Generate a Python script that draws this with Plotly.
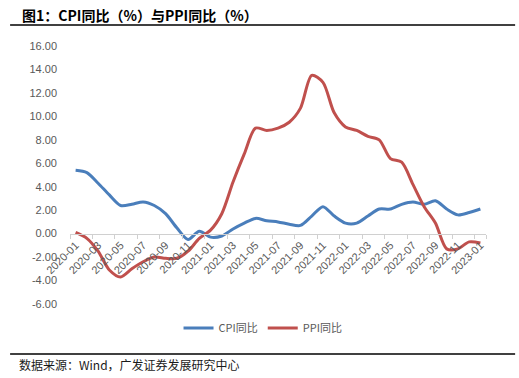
import plotly.graph_objects as go

months = ["2020-01","2020-02","2020-03","2020-04","2020-05","2020-06","2020-07","2020-08","2020-09","2020-10","2020-11","2020-12",
          "2021-01","2021-02","2021-03","2021-04","2021-05","2021-06","2021-07","2021-08","2021-09","2021-10","2021-11","2021-12",
          "2022-01","2022-02","2022-03","2022-04","2022-05","2022-06","2022-07","2022-08","2022-09","2022-10","2022-11","2022-12",
          "2023-01"]
cpi = [5.4, 5.2, 4.3, 3.3, 2.4, 2.5, 2.7, 2.4, 1.7, 0.5, -0.5, 0.2,
       -0.3, -0.2, 0.4, 0.9, 1.3, 1.1, 1.0, 0.8, 0.7, 1.5, 2.3, 1.5,
       0.9, 0.9, 1.5, 2.1, 2.1, 2.5, 2.7, 2.5, 2.8, 2.1, 1.6, 1.8,
       2.1]
ppi = [0.1, -0.4, -1.5, -3.1, -3.7, -3.0, -2.4, -2.0, -2.1, -2.1, -1.5, -0.4,
       0.3, 1.7, 4.4, 6.8, 9.0, 8.8, 9.0, 9.5, 10.7, 13.5, 12.9, 10.3,
       9.1, 8.8, 8.3, 8.0, 6.4, 6.1, 4.2, 2.3, 0.9, -1.3, -1.3, -0.7,
       -0.8]
y_ticks = [-6, -4, -2, 0, 2, 4, 6, 8, 10, 12, 14, 16]

title_text = "图1：CPI同比（%）与PPI同比（%）"
source_text = "数据来源：Wind，广发证券发展研究中心"

fig = go.Figure()
fig.add_trace(go.Scatter(x=months, y=cpi, name="CPI同比", mode="lines",
                         line=dict(color="#4a7ebb", width=3, shape="spline", smoothing=0.8)))
fig.add_trace(go.Scatter(x=months, y=ppi, name="PPI同比", mode="lines",
                         line=dict(color="#c0504d", width=3, shape="spline", smoothing=0.8)))

ymin, ymax = -6, 16
fig.update_layout(
    width=519, height=378,
    margin=dict(l=70, r=33, t=46, b=74),
    paper_bgcolor="white", plot_bgcolor="white",
    font=dict(family="Liberation Sans, Arial, sans-serif", color="#595959", size=11),
    showlegend=True,
    legend=dict(orientation="h", x=0.464, xanchor="center", y=-0.093, yanchor="middle",
                font=dict(family="Noto Sans CJK SC", size=11, color="#595959"),
                itemwidth=30, tracegroupgap=0),
    xaxis=dict(type="category", range=[-0.5, len(months) - 0.5],
               anchor="free", position=(0 - ymin) / (ymax - ymin),
               tickmode="array", tickvals=months[::2], ticktext=months[::2],
               tickangle=-45, showgrid=False, showline=True, linecolor="#d0d0d0", linewidth=1,
               ticks="outside", ticklen=4, tickcolor="#d0d0d0", tickson="boundaries",
               tickfont=dict(size=11, color="#595959"), zeroline=False),
    yaxis=dict(range=[ymin, ymax], tickvals=y_ticks, ticktext=[f"{v:.2f}" for v in y_ticks],
               showgrid=False, zeroline=False, showline=False, ticks="",
               ticklabelstandoff=12, tickfont=dict(size=11, color="#595959")),
    annotations=[
        dict(text="<b>" + title_text + "</b>", xref="paper", yref="paper", x=-0.12, y=1.12,
             xanchor="left", yanchor="middle", showarrow=False,
             font=dict(family="Noto Sans CJK SC", size=14, color="#000000")),
        dict(text=source_text, xref="paper", yref="paper", x=-0.127, y=-0.233,
             xanchor="left", yanchor="middle", showarrow=False,
             font=dict(family="Noto Sans CJK SC", size=12, color="#1a1a1a")),
    ],
    shapes=[
        dict(type="line", xref="paper", yref="paper", x0=-0.144, x1=1.07, y0=1.0814, y1=1.0814,
             line=dict(color="black", width=1.5)),
        dict(type="line", xref="paper", yref="paper", x0=-0.144, x1=1.07, y0=-0.194, y1=-0.194,
             line=dict(color="black", width=1.5)),
    ],
)
fig.write_html("out.html", config={"displayModeBar": False},
               post_script="document.body.style.margin='0px';")
